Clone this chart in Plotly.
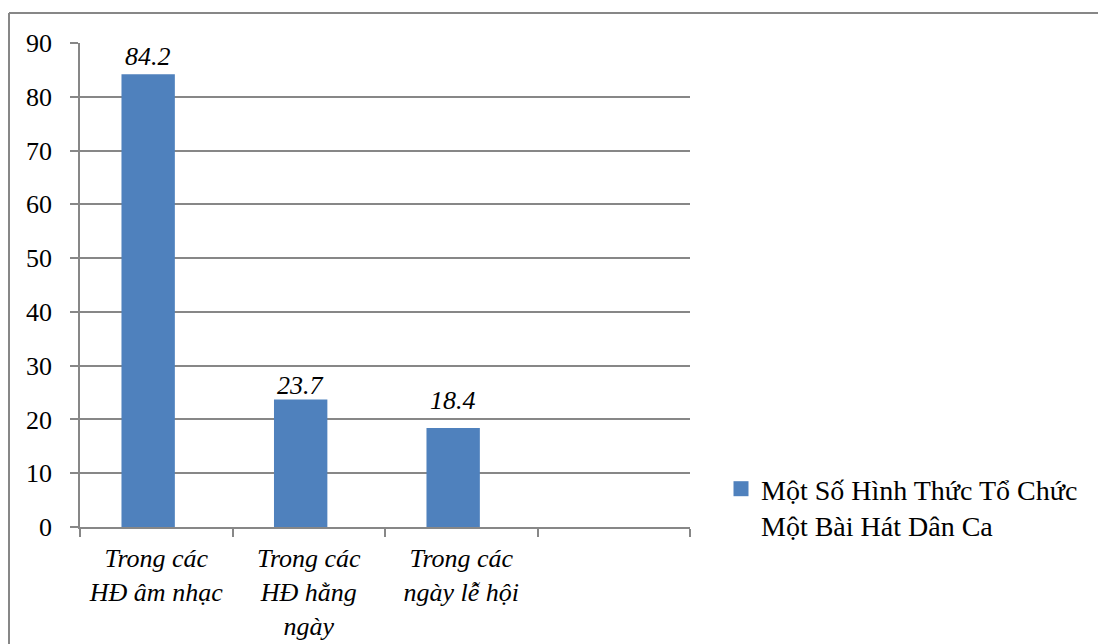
import plotly.graph_objects as go

# Chart data
categories = ["Trong các<br>HĐ âm nhạc", "Trong các<br>HĐ hằng<br>ngày", "Trong các<br>ngày lễ hội", " "]
values = [84.2, 23.7, 18.4, None]
series_name = "Một Số Hình Thức Tổ Chức<br>Một Bài Hát Dân Ca"
y_ticks = [0, 10, 20, 30, 40, 50, 60, 70, 80, 90]

# vertical nudge (px) of each value label above its bar
label_lift = [1, -2, 11]

W, H = 1098, 644
L, R, T, B = 80, 408, 43, 117
GRAY = "#878787"
BLUE = "#4F81BD"
SERIF = "Liberation Serif"
FS = 26
BAR_W = 0.35
BAR_OFF = -0.228
CAT_PX = (W - L - R) / 4

fig = go.Figure()
fig.add_trace(go.Bar(
    x=categories,
    y=values,
    name=series_name,
    marker=dict(color=BLUE, line=dict(width=0)),
    width=BAR_W,
    offset=BAR_OFF,
    cliponaxis=False,
    showlegend=False,
))
# legend key: square swatch in the series colour
fig.add_trace(go.Scatter(
    x=[None], y=[None],
    mode="markers",
    name=series_name,
    marker=dict(symbol="square", size=15, color=BLUE),
    showlegend=True,
))

# value labels centred over each bar
bar_shift_px = (BAR_OFF + BAR_W / 2) * CAT_PX
for cat, val, lift in zip(categories, values, label_lift):
    if val is None:
        continue
    fig.add_annotation(
        x=cat, y=val, xref="x", yref="y",
        text=f"{val}",
        showarrow=False,
        xanchor="center", yanchor="bottom",
        xshift=bar_shift_px, yshift=lift,
        font=dict(family=SERIF, size=FS, color="black", style="italic"),
    )

plot_w = W - L - R
plot_h = H - T - B

def px_x(p):
    return (p - L) / plot_w

def px_y(p):
    return (H - B - p) / plot_h

# outer chart frame (top and left edges visible)
fig.add_shape(type="line", xref="paper", yref="paper",
              x0=px_x(9), x1=px_x(W + 5), y0=px_y(13), y1=px_y(13),
              line=dict(color=GRAY, width=2))
fig.add_shape(type="line", xref="paper", yref="paper",
              x0=px_x(9), x1=px_x(9), y0=px_y(13), y1=px_y(H + 5),
              line=dict(color=GRAY, width=2))

fig.update_layout(
    width=W, height=H,
    margin=dict(l=L, r=R, t=T, b=B, pad=0, autoexpand=False),
    paper_bgcolor="white",
    plot_bgcolor="white",
    font=dict(family=SERIF, size=FS, color="black"),
    bargap=0.65,
    legend=dict(
        x=px_x(721), y=px_y(464), xanchor="left", yanchor="top",
        font=dict(family=SERIF, size=28, color="black"),
        valign="top",
        bgcolor="rgba(0,0,0,0)",
    ),
    xaxis=dict(
        type="category",
        categoryorder="array",
        categoryarray=categories,
        range=[-0.5, 3.5],
        tickson="boundaries",
        ticks="outside",
        ticklen=8,
        tickcolor=GRAY,
        tickwidth=1.5,
        showline=True,
        linecolor=GRAY,
        linewidth=1.5,
        showgrid=False,
        tickfont=dict(family=SERIF, size=FS, color="black", style="italic"),
        ticklabelstandoff=7,
        automargin=False,
        fixedrange=True,
    ),
    yaxis=dict(
        range=[0, 90],
        tickvals=y_ticks,
        ticks="outside",
        ticklen=8,
        tickcolor=GRAY,
        tickwidth=1.5,
        showline=True,
        linecolor=GRAY,
        linewidth=1.5,
        showgrid=True,
        gridcolor=GRAY,
        gridwidth=1.5,
        zeroline=False,
        tickfont=dict(family=SERIF, size=FS, color="black"),
        ticklabelstandoff=13,
        automargin=False,
        fixedrange=True,
    ),
)

fig.write_html("out.html", config={"displayModeBar": False})
